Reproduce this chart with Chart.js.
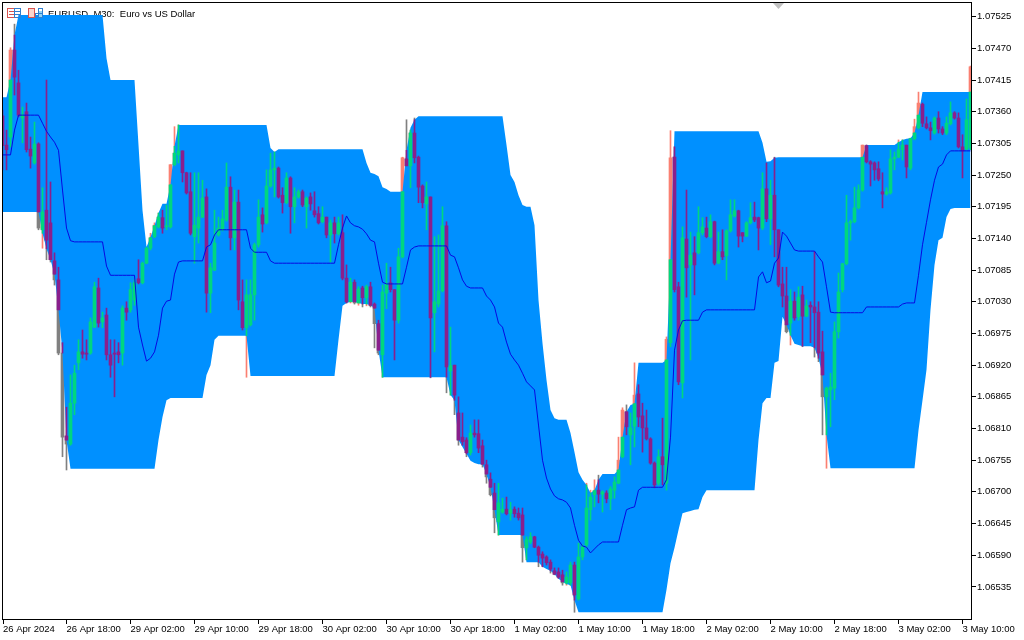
<!DOCTYPE html>
<html>
<head>
<meta charset="utf-8">
<title>EURUSD M30</title>
<script src="https://cdn.jsdelivr.net/npm/chart.js@4"></script>
<style>
  html, body { margin: 0; padding: 0; background: #fff; }
  canvas { display: block; }
</style>
</head>
<body>
<canvas id="chart" width="1024" height="640"></canvas>
<script>
// all prices in points (1.07415 -> 107415), one entry per M30 bar
const opens = [
  107353,107302,107316,107467,107410,107349,107360,107295,107271,107304,
  107155,107189,107167,107101,107068,106941,106797,106783,106854,106924,
  106943,106941,106941,106986,107054,106995,107007,106938,106941,106943,
  106941,107019,107016,107033,107070,107063,107097,107123,107143,107160,
  107176,107160,107160,107268,107285,107292,107254,107221,107143,107158,
  107177,107212,107045,107085,107146,107155,107172,107229,107141,107203,
  107030,106985,106990,107042,107129,107181,107167,107231,107259,107262,
  107215,107202,107245,107195,107212,107221,107195,107212,107188,107183,
  107169,107177,107146,107167,107148,107150,107071,107030,107064,107028,
  107054,107037,107056,107026,106992,106938,107045,107063,107051,106998,
  107108,107278,107266,107323,107281,107231,107200,107212,107011,107026,
  107049,107162,106910,106920,106837,106795,106790,106768,106802,106801,
  106780,106747,106722,106698,106648,106665,106670,106663,106670,106663,
  106660,106603,106613,106622,106604,106592,106587,106578,106563,106561,
  106556,106542,106542,106573,106514,106587,106608,106669,106695,106703,
  106696,106698,106688,106703,106715,106761,106839,106799,106814,106870,
  106832,106811,106792,106750,106715,106761,106715,106959,107281,107056,
  106889,107139,107094,107115,107115,107150,107158,107143,107169,107097,
  107117,107110,107153,107179,107188,107150,107144,107167,107177,107176,
  107158,107226,107174,107215,107155,107061,107040,106993,107031,107004,
  107042,107005,107024,107021,107012,106943,106865,106877,106880,106978,
  107051,107096,107167,107169,107193,107224,107301,107273,107271,107261,
  107221,107217,107219,107278,107281,107294,107302,107262,107313,107332,
  107373,107339,107332,107323,107349,107330,107323,107339,107358,107349,
  107299,107295,107297
];
const highs = [
  107363,107328,107471,107512,107432,107368,107375,107316,107342,107306,
  107228,107415,107238,107115,107090,106959,106847,106903,106920,106964,
  106981,106964,107002,107064,107071,107012,107019,106964,106964,106959,
  107023,107030,107063,107068,107103,107099,107125,107149,107167,107184,
  107189,107198,107268,107334,107337,107292,107255,107254,107254,107254,
  107241,107226,107097,107189,107177,107189,107271,107247,107224,107224,
  107068,107068,107068,107132,107207,107193,107259,107288,107290,107264,
  107228,107254,107247,107228,107224,107224,107212,107219,107221,107195,
  107195,107177,107172,107177,107177,107181,107094,107071,107068,107056,
  107057,107059,107064,107028,106998,107059,107097,107090,107051,107123,
  107281,107346,107328,107349,107283,107233,107238,107212,107143,107146,
  107195,107169,106986,106920,106865,106837,106794,106816,106825,106825,
  106790,106755,106733,106715,106715,106689,106691,106682,106674,106672,
  106672,106622,106629,106623,106606,106596,106589,106582,106568,106568,
  106564,106561,106578,106578,106611,106608,106715,106703,106721,106729,
  106702,106702,106709,106726,106795,106846,106851,106837,106924,106886,
  106854,106842,106794,106752,106773,106828,106969,107327,107299,107064,
  107160,107224,107151,107143,107195,107176,107177,107181,107170,107151,
  107155,107155,107207,107207,107189,107150,107169,107202,107203,107177,
  107254,107271,107241,107281,107155,107090,107090,107051,107047,107056,
  107057,107033,107030,107117,107030,106979,106882,106906,106995,107080,
  107097,107215,107172,107229,107233,107302,107302,107275,107273,107273,
  107254,107228,107294,107290,107311,107311,107302,107314,107347,107394,
  107375,107351,107342,107351,107360,107334,107351,107377,107360,107358,
  107320,107382,107439
];
const lows = [
  107259,107259,107299,107389,107351,107306,107290,107262,107269,107155,
  107123,107103,107099,107059,106938,106761,106738,106781,106834,106912,
  106932,106929,106939,106985,106986,106985,106929,106899,106865,106924,
  106920,106998,107012,107024,107061,107061,107096,107120,107141,107158,
  107149,107155,107158,107266,107271,107238,107217,107146,107097,107132,
  107176,107012,107011,107084,107144,107153,107170,107120,107120,107016,
  106981,106899,106988,106998,107125,107151,107165,107229,107212,107210,
  107184,107200,107149,107167,107210,107195,107158,107189,107177,107165,
  107167,107141,107099,107132,107146,107068,107028,107028,107026,107024,
  107021,107023,107021,106950,106938,106899,107018,107047,106929,106993,
  107106,107266,107228,107271,107202,107193,107155,106898,106943,107021,
  107047,106872,106868,106834,106781,106781,106761,106764,106795,106768,
  106743,106715,106693,106629,106625,106663,106660,106651,106656,106651,
  106578,106582,106610,106603,106570,106570,106573,106559,106556,106550,
  106538,106538,106538,106491,106512,106582,106604,106651,106674,106681,
  106665,106681,106669,106689,106714,106759,106799,106747,106778,106813,
  106769,106790,106748,106707,106712,106712,106703,106952,107047,106886,
  106863,107038,106929,107042,107113,107146,107141,107141,107094,107096,
  107103,107068,107151,107177,107125,107134,107143,107165,107169,107120,
  107155,107169,107129,107108,107056,107021,106976,106955,106998,106998,
  106952,107004,106959,106934,106926,106799,106741,106813,106860,106967,
  107047,107094,107137,107167,107191,107222,107271,107231,107241,107240,
  107193,107215,107217,107259,107280,107276,107245,107259,107311,107330,
  107334,107330,107311,107321,107323,107320,107320,107337,107347,107297,
  107245,107294,107294
];
const closes = [
  107301,107294,107467,107420,107354,107354,107294,107283,107304,107158,
  107186,107137,107103,107068,106941,106795,106783,106854,106906,106943,
  106939,106939,106995,107056,106993,107002,106938,106920,106939,106938,
  107019,107012,107051,107063,107063,107097,107123,107141,107163,107177,
  107158,107162,107268,107288,107292,107254,107219,107149,107163,107177,
  107210,107045,107089,107132,107158,107174,107229,107141,107203,107033,
  106985,107042,107042,107129,107177,107165,107231,107259,107262,107212,
  107202,107245,107195,107212,107221,107198,107210,107200,107181,107167,
  107177,107146,107167,107148,107167,107071,107030,107064,107028,107052,
  107037,107056,107023,106992,106941,107047,107061,107051,106998,107108,
  107280,107266,107323,107280,107229,107202,107212,107002,107030,107049,
  107162,106917,106919,106868,106790,106787,106768,106802,106799,106776,
  106748,106726,106695,106655,106681,106670,106662,106669,106662,106655,
  106603,106617,106622,106604,106590,106585,106577,106566,106557,106552,
  106542,106552,106573,106521,106587,106604,106672,106691,106702,106696,
  106700,106688,106705,106717,106755,106842,106813,106811,106868,106830,
  106811,106792,106750,106712,106761,106747,106965,107280,107051,106891,
  107141,107089,107111,107094,107150,107160,107143,107169,107097,107117,
  107108,107153,107181,107188,107144,107144,107167,107176,107172,107158,
  107226,107174,107215,107155,107059,107040,106978,107031,107002,107038,
  107005,107023,107021,107011,106941,106865,106880,106882,106978,107047,
  107096,107167,107169,107193,107224,107302,107273,107269,107259,107243,
  107217,107221,107278,107281,107294,107302,107264,107313,107334,107375,
  107340,107332,107327,107349,107330,107323,107340,107358,107349,107299,
  107292,107346,107438
];
const bandUpper = [
  107385,107385,107415,107493,107528,107528,107528,107528,107528,107528,
  107528,107528,107528,107528,107528,107528,107528,107528,107528,107528,
  107528,107528,107528,107528,107528,107528,107453,107415,107415,107415,
  107415,107415,107415,107415,107302,107189,107125,107142,107162,107184,
  107200,107200,107233,107300,107337,107337,107337,107337,107337,107337,
  107337,107337,107337,107337,107337,107337,107337,107337,107337,107337,
  107337,107337,107337,107337,107337,107337,107337,107297,107290,107295,
  107295,107295,107295,107295,107295,107295,107295,107295,107295,107295,
  107295,107295,107295,107295,107295,107295,107295,107295,107295,107295,
  107295,107271,107254,107252,107248,107229,107226,107221,107221,107221,
  107221,107293,107332,107346,107352,107352,107352,107352,107352,107352,
  107352,107352,107352,107352,107352,107352,107352,107352,107352,107352,
  107352,107352,107352,107352,107352,107352,107302,107250,107238,107215,
  107198,107195,107195,107163,107033,106958,106894,106842,106828,106825,
  106825,106825,106802,106769,106734,106721,106712,106698,106703,106721,
  106731,106731,106731,106731,106738,106795,106839,106851,106853,106924,
  106924,106924,106924,106924,106924,106924,106929,107103,107326,107326,
  107326,107326,107326,107326,107326,107326,107326,107326,107326,107326,
  107326,107326,107326,107326,107326,107326,107326,107326,107326,107326,
  107306,107273,107274,107280,107281,107281,107281,107281,107281,107281,
  107281,107281,107281,107281,107281,107281,107281,107281,107281,107281,
  107281,107281,107281,107281,107281,107281,107302,107302,107302,107302,
  107302,107302,107302,107302,107307,107311,107313,107314,107323,107354,
  107394,107394,107394,107394,107394,107394,107394,107394,107394,107394,
  107394,107394,107394
];
const bandLower = [
  107186,107186,107186,107186,107186,107186,107186,107186,107186,107186,
  107149,107122,107103,107078,107016,106941,106790,106740,106740,106740,
  106740,106740,106740,106740,106740,106740,106740,106740,106740,106740,
  106740,106740,106740,106740,106740,106740,106740,106740,106740,106790,
  106830,106859,106863,106863,106863,106863,106863,106863,106863,106863,
  106863,106903,106920,106964,106971,106971,106971,106971,106971,106971,
  106971,106971,106901,106901,106901,106901,106901,106901,106901,106901,
  106901,106901,106901,106901,106901,106901,106901,106901,106901,106901,
  106901,106901,106901,106901,106964,107023,107028,107030,107030,107028,
  107026,107026,107024,107019,106946,106899,106899,106899,106899,106899,
  106899,106899,106899,106899,106899,106899,106899,106899,106899,106899,
  106899,106899,106868,106859,106790,106778,106766,106754,106750,106748,
  106748,106731,106708,106669,106625,106625,106625,106625,106625,106625,
  106625,106578,106578,106578,106578,106570,106566,106563,106557,106549,
  106544,106540,106538,106512,106491,106491,106491,106491,106491,106491,
  106491,106491,106491,106491,106491,106491,106491,106491,106491,106491,
  106491,106491,106491,106491,106491,106491,106530,106576,106603,106634,
  106663,106665,106667,106669,106670,106691,106703,106703,106703,106703,
  106703,106703,106703,106703,106703,106703,106703,106703,106703,106790,
  106854,106863,106863,106924,106927,107004,106990,106972,106957,106955,
  106953,106953,106953,106950,106932,106903,106799,106741,106741,106741,
  106741,106741,106741,106741,106741,106741,106741,106741,106741,106741,
  106741,106741,106741,106741,106741,106741,106741,106741,106741,106807,
  106859,106912,107016,107094,107137,107141,107177,107191,107193,107193,
  107193,107193,107193
];
const midLine = [
  107285,107285,107285,107328,107354,107354,107354,107354,107354,107354,
  107340,107326,107316,107307,107293,107224,107158,107136,107134,107134,
  107134,107134,107134,107134,107134,107134,107092,107076,107076,107076,
  107076,107076,107076,107076,106986,106955,106927,106932,106943,106972,
  107019,107031,107033,107078,107099,107101,107101,107101,107101,107101,
  107101,107125,107129,107146,107155,107155,107155,107155,107155,107155,
  107155,107155,107123,107116,107116,107116,107116,107101,107097,107097,
  107097,107097,107097,107097,107097,107097,107097,107097,107097,107097,
  107097,107097,107097,107097,107129,107158,107179,107167,107162,107160,
  107156,107148,107137,107134,107097,107064,107061,107061,107061,107061,
  107061,107090,107120,107125,107127,107127,107127,107127,107127,107127,
  107127,107127,107111,107108,107089,107068,107057,107054,107054,107054,
  107054,107040,107033,107021,106993,106986,106960,106939,106929,106920,
  106906,106891,106884,106877,106816,106755,106724,106705,106693,106688,
  106686,106682,106672,106642,106616,106606,106604,106594,106601,106608,
  106613,106613,106613,106613,106613,106642,106669,106672,106674,106703,
  106708,106708,106708,106708,106708,106708,106721,106795,106946,106981,
  106997,106998,106998,106998,106998,107012,107016,107016,107016,107016,
  107016,107016,107016,107016,107016,107016,107016,107016,107016,107073,
  107082,107063,107066,107097,107106,107151,107144,107132,107120,107118,
  107118,107118,107118,107118,107108,107099,107056,107012,107011,107011,
  107011,107011,107011,107011,107011,107011,107021,107021,107021,107021,
  107021,107021,107021,107021,107021,107026,107028,107028,107028,107076,
  107129,107168,107207,107241,107264,107269,107285,107292,107292,107292,
  107292,107292,107292
];
const yTicks = [
  107525,107470,107415,107360,107305,107250,107195,107140,107085,107030,
  106975,106920,106865,106810,106755,106700,106645,106590,106535
];
const xTickBars = [0,16,32,48,64,80,96,112,128,144,160,176,192,208,224,240];
const xTickLabels = [
  '26 Apr 2024','26 Apr 18:00','29 Apr 02:00','29 Apr 10:00','29 Apr 18:00','30 Apr 02:00',
  '30 Apr 10:00','30 Apr 18:00','1 May 02:00','1 May 10:00','1 May 18:00','2 May 02:00',
  '2 May 10:00','2 May 18:00','3 May 02:00','3 May 10:00'
];
const titleText = 'EURUSD, M30:  Euro vs US Dollar';

const BLUE = '#0090ff';
const UP_IN = '#00d77f', DOWN_IN = '#8a1f8c';   // candle colours over the band
const UP_OUT = '#fa8072', DOWN_OUT = '#808080'; // and over white
const FONT = 'Liberation Sans';

const isUp = i => closes[i] >= opens[i];
const pts = arr => arr.map((y, x) => ({ x, y }));
const whole = (a, b) => a.map((v, x) => ({ x, y: [v, b[x]] }));

// part of a candle that sits inside the band, bars with none are dropped
function inside(a, b) {
  const out = [];
  a.forEach((v, x) => {
    const hi = Math.min(Math.max(v, b[x]), bandUpper[x]);
    const lo = Math.max(Math.min(v, b[x]), bandLower[x]);
    if (hi > lo) out.push({ x, y: [lo, hi] });
  });
  return out;
}

const colorOut = c => isUp(c.raw.x) ? UP_OUT : DOWN_OUT;
const colorIn = c => isUp(c.raw.x) ? UP_IN : DOWN_IN;
const bar = (data, width, color, order) => ({
  type: 'bar', data, order, grouped: false, barThickness: width,
  backgroundColor: color, borderWidth: 0, minBarLength: 1
});

const decorPlugin = {
  id: 'decor',
  // title goes under the band, like in the terminal
  beforeDatasetsDraw(chart) {
    const c = chart.ctx;
    c.save();
    c.fillStyle = '#000';
    c.font = '9.5px "' + FONT + '"';
    c.textBaseline = 'alphabetic';
    c.fillText(titleText, 48, 17);
    c.restore();
  },
  afterDraw(chart) {
    const c = chart.ctx, a = chart.chartArea;
    c.save();
    c.strokeStyle = '#000';
    c.lineWidth = 1;
    c.strokeRect(a.left - 0.5, a.top - 0.5, a.right - a.left + 1, a.bottom - a.top + 1);
    // shift marker
    c.fillStyle = '#c0c0c0';
    c.beginPath();
    c.moveTo(773, a.top); c.lineTo(784, a.top); c.lineTo(778.5, a.top + 6);
    c.fill();
    // menu icon
    c.strokeStyle = '#d9534f';
    c.strokeRect(7.5, 8.5, 7, 9);
    c.beginPath();
    c.moveTo(9, 11.5); c.lineTo(14, 11.5); c.moveTo(9, 14.5); c.lineTo(14, 14.5);
    c.stroke();
    c.strokeStyle = '#2f7fd0';
    c.strokeRect(14.5, 8.5, 6, 9);
    c.beginPath();
    c.moveTo(15, 11.5); c.lineTo(20, 11.5); c.moveTo(15, 14.5); c.lineTo(20, 14.5);
    c.stroke();
    // one click icon
    c.strokeStyle = '#d9534f';
    c.fillStyle = '#fbd5cc';
    c.fillRect(29, 9, 5, 9); c.strokeRect(28.5, 8.5, 6, 9);
    c.strokeStyle = '#2f7fd0';
    c.fillStyle = '#8fd3f4';
    c.fillRect(38, 11, 4, 7); c.strokeRect(35.5, 13.5, 7, 4); c.strokeRect(38.5, 8.5, 4, 9);
    c.restore();
  }
};

new Chart(document.getElementById('chart'), {
  data: {
    datasets: [
      bar(whole(lows, highs), 1, colorOut, 7),
      bar(whole(opens, closes), 3, colorOut, 6),
      { type: 'line', data: pts(bandUpper), order: 5, borderWidth: 0, pointRadius: 0, fill: false },
      { type: 'line', data: pts(bandLower), order: 4, borderWidth: 0, pointRadius: 0, backgroundColor: BLUE, fill: '-1' },
      bar(inside(lows, highs), 1, colorIn, 3),
      bar(inside(opens, closes), 3, colorIn, 2),
      { type: 'line', data: pts(midLine), order: 1, borderColor: '#0808e0', borderWidth: 1, pointRadius: 0, fill: false }
    ]
  },
  options: {
    responsive: false,
    animation: false,
    devicePixelRatio: 1,
    events: [],
    layout: { autoPadding: false, padding: { left: 3, top: 3, right: 0, bottom: 0 } },
    plugins: { legend: { display: false }, tooltip: { enabled: false } },
    scales: {
      x: {
        type: 'linear',
        offset: false,
        min: 0.125,
        max: 242.125,
        afterFit(s) { s.height = 21; s.paddingLeft = 0; s.paddingRight = 0; },
        afterBuildTicks(s) { s.ticks = xTickBars.map(b => ({ value: Math.max(b, s.min) })); },
        grid: { offset: false, drawOnChartArea: false, tickLength: 5, tickColor: '#000' },
        border: { display: false },
        ticks: {
          autoSkip: false, maxRotation: 0, align: 'start', padding: 0, color: '#000',
          font: { family: FONT, size: 9.5 },
          callback: (v, i) => xTickLabels[i]
        }
      },
      y: {
        position: 'right',
        min: 106479.3,
        max: 107548.7,
        afterFit(s) { s.width = 53; s.paddingTop = 0; s.paddingBottom = 0; },
        afterBuildTicks(s) { s.ticks = yTicks.map(value => ({ value })); },
        grid: { drawOnChartArea: false, tickLength: 5, tickColor: '#000' },
        border: { display: false },
        ticks: {
          autoSkip: false, padding: 1, color: '#000',
          font: { family: FONT, size: 9.5 },
          callback: v => (v / 100000).toFixed(5)
        }
      }
    }
  },
  plugins: [decorPlugin]
});
</script>
</body>
</html>
